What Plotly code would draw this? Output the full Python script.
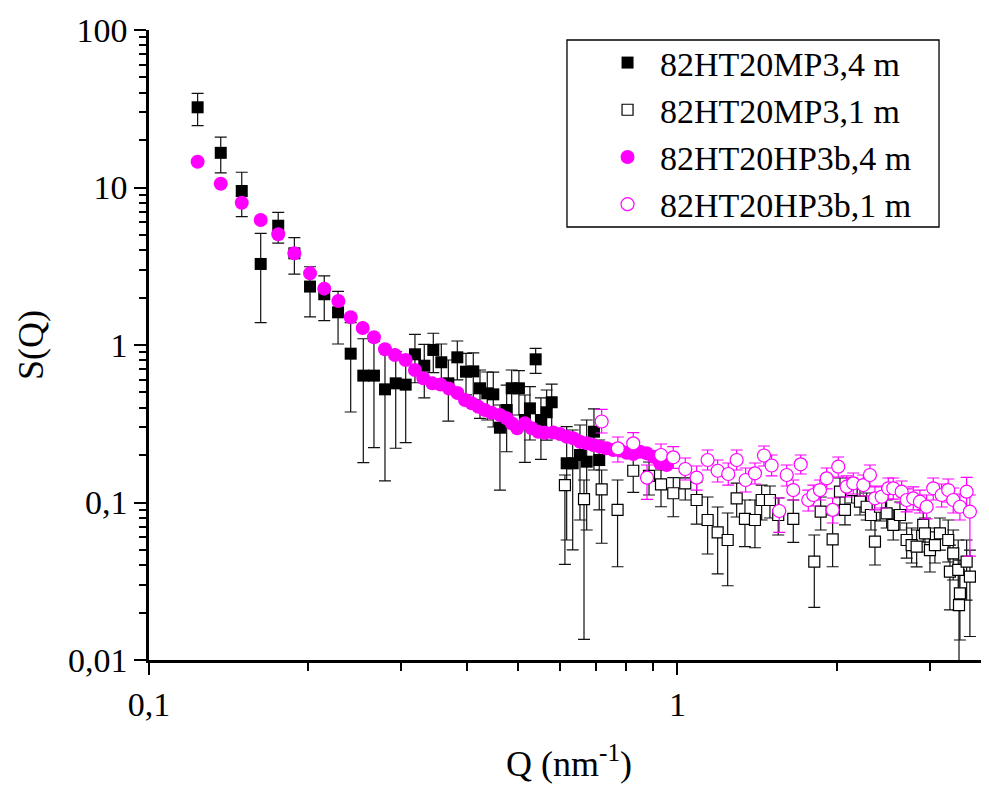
import plotly.graph_objects as go

# ---- data: 82HT20MP3, 4 m (filled black squares) ----
q_mp3_4m = [0.1236, 0.1367, 0.1498, 0.1627, 0.1756, 0.1884, 0.2017, 0.2146, 0.2279, 0.2408,
            0.2544, 0.2665, 0.2796, 0.2930, 0.3060, 0.3186, 0.3318, 0.3451, 0.3574, 0.3685,
            0.3832, 0.3980, 0.4108, 0.4230, 0.4366, 0.4482, 0.4614, 0.4751, 0.4856, 0.5012,
            0.5144, 0.5258, 0.5391, 0.5516, 0.5655, 0.5781, 0.6171, 0.6335, 0.6539, 0.6733,
            0.6950, 0.7112]
s_mp3_4m = [32.3, 16.6, 9.50, 3.27, 5.72, 3.82, 2.35, 2.10, 1.613, 0.881,
            0.639, 0.639, 0.523, 0.571, 0.560, 0.873, 0.739, 0.930, 0.777, 0.571,
            0.835, 0.677, 0.680, 0.531, 0.4935, 0.486, 0.2985, 0.3866, 0.531, 0.531,
            0.334, 0.396, 0.811, 0.334, 0.374, 0.433, 0.1774, 0.1774, 0.2003, 0.1816,
            0.2815, 0.186]
s_mp3_4m_hi = [39.6, 20.9, 12.5, 5.12, 6.96, 4.80, 3.14, 2.75, 2.19, 1.386,
               1.096, 1.056, 0.930, 0.907, 0.864, 1.169, 1.010, 1.187, 1.015, 0.803,
               1.060, 0.886, 0.890, 0.694, 0.674, 0.673, 0.416, 0.557, 0.694, 0.687,
               0.4815, 0.5435, 0.953, 0.461, 0.518, 0.565, 0.303, 0.2886, 0.3105, 0.334,
               0.3925, 0.2493]
s_mp3_4m_lo = [24.7, 12.4, 6.53, 1.386, 4.44, 2.82, 1.51, 1.427, 1.015, 0.3755,
               0.179, 0.223, 0.137, 0.221, 0.2397, 0.576, 0.461, 0.667, 0.536, 0.329,
               0.600, 0.482, 0.448, 0.3424, 0.334, 0.3016, 0.120, 0.210, 0.334, 0.3594,
               0.180, 0.2493, 0.661, 0.188, 0.249, 0.2886, 0.0578, 0.050, 0.0774, 0.0669,
               0.1608, 0.0897]

# ---- data: 82HT20MP3, 1 m (open black squares) ----
q_mp3_1m = [0.6124, 0.6655, 0.7187, 0.7703, 0.8247, 0.8834, 0.9308, 0.9819, 1.0346, 1.0871,
            1.1404, 1.1914, 1.2445, 1.2942, 1.3418, 1.4015, 1.4431, 1.4962, 1.5512, 1.6563,
            1.8151, 1.8664, 1.9661, 2.0300, 2.0745, 2.1361, 2.2148, 2.2803, 2.3233, 2.3644,
            2.4166, 2.4877, 2.5604, 2.6363, 2.7144, 2.7739, 2.8352, 2.9179, 2.9395, 3.0044,
            3.0702, 3.1380, 3.2535, 3.2776, 3.3249, 3.3984, 3.4100, 3.4236, 3.5251, 3.5759]
s_mp3_1m = [0.1291, 0.1052, 0.1213, 0.0897, 0.1591, 0.1474, 0.1305, 0.1145, 0.1324, 0.1037,
            0.0774, 0.0647, 0.0578, 0.1063, 0.0786, 0.0774, 0.1037, 0.1037, 0.0833, 0.0786,
            0.0421, 0.0874, 0.0584, 0.1171, 0.0897, 0.1200, 0.1012, 0.0940, 0.0833, 0.0564,
            0.0940, 0.0853, 0.0720, 0.0833, 0.0578, 0.0537, 0.0524, 0.0720, 0.0637, 0.0499,
            0.0537, 0.0637, 0.0578, 0.0364, 0.0476, 0.0373, 0.0223, 0.0265, 0.0421, 0.0338]
s_mp3_1m_hi = [0.1495, 0.1389, 0.1608, 0.1389, 0.2023, 0.1808, 0.1608, 0.1437, 0.1608, 0.1349,
               0.1084, 0.0936, 0.0858, 0.1329, 0.1037, 0.1037, 0.1291, 0.1273, 0.1068, 0.1037,
               0.0622, 0.1084, 0.0833, 0.1431, 0.1116, 0.1431, 0.1236, 0.1149, 0.1007, 0.0774,
               0.1149, 0.1037, 0.0897, 0.1007, 0.0741, 0.0689, 0.0669, 0.0897, 0.0797, 0.0650,
               0.0689, 0.0797, 0.0774, 0.0537, 0.0669, 0.0578, 0.0373, 0.0431, 0.0578, 0.0499]
s_mp3_1m_lo = [0.0405, 0.0135, 0.0551, 0.0391, 0.1161, 0.1116, 0.0940, 0.0812, 0.1037, 0.0730,
               0.0471, 0.0352, 0.0296, 0.0809, 0.0524, 0.0516, 0.0774, 0.0797, 0.0622, 0.0559,
               0.0216, 0.0669, 0.0391, 0.0964, 0.0720, 0.0993, 0.0833, 0.0774, 0.0669, 0.0401,
               0.0763, 0.0689, 0.0578, 0.0669, 0.0444, 0.0413, 0.0390, 0.0561, 0.0485, 0.0362,
               0.0413, 0.0499, 0.0419, 0.0208, 0.0322, 0.0208, 0.0080, 0.0134, 0.0240, 0.0141]

# ---- data: 82HT20HP3b, 4 m (filled magenta circles) ----
q_hp3b_4m = [0.1236, 0.1367, 0.1498, 0.1627, 0.1756, 0.1884, 0.2017, 0.2146, 0.2282, 0.2408,
             0.2537, 0.2665, 0.2796, 0.2921, 0.3060, 0.3186, 0.3304, 0.3436, 0.3562, 0.3696,
             0.3835, 0.3962, 0.4080, 0.4199, 0.4323, 0.4450, 0.4614, 0.4751, 0.4856, 0.4975,
             0.5144, 0.5297, 0.5451, 0.5613, 0.5821, 0.5993, 0.6171, 0.6351, 0.6539, 0.6733,
             0.6929, 0.7134, 0.7345, 0.7560, 0.7783, 0.8013, 0.8247, 0.8492, 0.8744, 0.9000,
             0.9267, 0.9541]
s_hp3b_4m = [14.58, 10.57, 8.01, 6.22, 5.05, 3.82, 2.85, 2.28, 1.903, 1.499,
             1.282, 1.119, 0.939, 0.864, 0.803, 0.694, 0.615, 0.571, 0.561, 0.529,
             0.496, 0.4475, 0.4264, 0.4058, 0.3866, 0.3716, 0.3594, 0.3424, 0.3184, 0.2959,
             0.3184, 0.2959, 0.2815, 0.2774, 0.2780, 0.2722, 0.2617, 0.2556, 0.2432, 0.2375,
             0.2318, 0.2261, 0.2208, 0.2154, 0.2140, 0.2071, 0.2032, 0.2102, 0.2053, 0.1953,
             0.1774, 0.1730]

# ---- data: 82HT20HP3b, 1 m (open magenta circles) ----
q_hp3b_1m = [0.7187, 0.7712, 0.8247, 0.8757, 0.9308, 0.9819, 1.0346, 1.0871, 1.1404, 1.1914,
             1.2477, 1.2942, 1.3459, 1.4015, 1.4578, 1.5073, 1.5580, 1.6095, 1.6563, 1.7107,
             1.7683, 1.8072, 1.8605, 1.9157, 1.9661, 2.0151, 2.0898, 2.1509, 2.2471, 2.3132,
             2.3644, 2.4345, 2.5057, 2.5604, 2.6560, 2.7144, 2.7937, 2.8759, 2.9612, 3.0479,
             3.1616, 3.2535, 3.3249, 3.4236, 3.5251, 3.5759]
s_hp3b_1m = [0.3267, 0.2208, 0.2375, 0.1437, 0.2003, 0.1936, 0.1632, 0.1437, 0.1862, 0.1591,
             0.1517, 0.1862, 0.1389, 0.1532, 0.1988, 0.1717, 0.0883, 0.1495, 0.1200, 0.1748,
             0.1037, 0.1116, 0.1200, 0.1424, 0.0897, 0.1688, 0.1260, 0.1324, 0.1291, 0.1495,
             0.1063, 0.1088, 0.1231, 0.1231, 0.1171, 0.1037, 0.1063, 0.1012, 0.0940, 0.1231,
             0.1116, 0.1200, 0.1037, 0.0940, 0.1171, 0.0874]
s_hp3b_1m_hi = [0.3906, 0.2605, 0.2774, 0.1730, 0.2352, 0.2261, 0.1916, 0.1705, 0.2154, 0.1862,
                0.1781, 0.2154, 0.1656, 0.1781, 0.2285, 0.2003, 0.1068, 0.1730, 0.1389, 0.2003,
                0.1200, 0.1291, 0.1389, 0.1656, 0.1068, 0.1945, 0.1474, 0.1539, 0.1495, 0.1730,
                0.1255, 0.1273, 0.1431, 0.1431, 0.1369, 0.1219, 0.1255, 0.1200, 0.1116, 0.1431,
                0.1311, 0.1410, 0.1236, 0.1132, 0.1445, 0.1116]
s_hp3b_1m_lo = [0.2762, 0.1808, 0.2003, 0.1047, 0.1656, 0.1645, 0.1389, 0.1200, 0.1608, 0.1349,
                0.1291, 0.1608, 0.1166, 0.1311, 0.1705, 0.1474, 0.0646, 0.1273, 0.1037, 0.1517,
                0.0883, 0.0950, 0.1037, 0.1219, 0.0741, 0.1451, 0.1084, 0.1132, 0.1100, 0.1273,
                0.0897, 0.0923, 0.1052, 0.1052, 0.0993, 0.0871, 0.0897, 0.0858, 0.0786, 0.1037,
                0.0936, 0.1007, 0.0858, 0.0774, 0.0936, 0.0457]

# ---- axis ticks ----
x_tickvals = [0.1, 1]
x_ticktext = ["0,1", "1"]
x_minor = [0.2, 0.3, 0.4, 0.5, 0.6, 0.7, 0.8, 0.9, 2, 3]
y_tickvals = [0.01, 0.1, 1, 10, 100]
y_ticktext = ["0,01", "0,1", "1", "10", "100"]
y_minor = [m * d for d in (0.01, 0.1, 1, 10) for m in range(2, 10)]


def err(vals, hi, lo):
    return ([h - v for v, h in zip(vals, hi)], [v - l for v, l in zip(vals, lo)])


MAG = "#FF00FF"
FONT = "Liberation Serif"

fig = go.Figure()

p, m = err(s_mp3_4m, s_mp3_4m_hi, s_mp3_4m_lo)
fig.add_trace(go.Scatter(
    x=q_mp3_4m, y=s_mp3_4m, mode="markers", name="82HT20MP3,4 m",
    marker=dict(symbol="square", size=12, color="black", line=dict(width=0)),
    error_y=dict(type="data", symmetric=False, array=p, arrayminus=m,
                 color="#111111", thickness=1.2, width=6)))

p, m = err(s_mp3_1m, s_mp3_1m_hi, s_mp3_1m_lo)
fig.add_trace(go.Scatter(
    x=q_mp3_1m, y=s_mp3_1m, mode="markers", name="82HT20MP3,1 m",
    marker=dict(symbol="square", size=11, color="white", line=dict(width=1.2, color="black")),
    error_y=dict(type="data", symmetric=False, array=p, arrayminus=m,
                 color="#111111", thickness=1.2, width=6)))

fig.add_trace(go.Scatter(
    x=q_hp3b_4m, y=s_hp3b_4m, mode="markers", name="82HT20HP3b,4 m",
    marker=dict(symbol="circle", size=14, color=MAG, line=dict(width=0))))

p, m = err(s_hp3b_1m, s_hp3b_1m_hi, s_hp3b_1m_lo)
fig.add_trace(go.Scatter(
    x=q_hp3b_1m, y=s_hp3b_1m, mode="markers", name="82HT20HP3b,1 m",
    marker=dict(symbol="circle", size=13, color="white", line=dict(width=1.2, color=MAG)),
    error_y=dict(type="data", symmetric=False, array=p, arrayminus=m,
                 color=MAG, thickness=1.2, width=6)))

# page body has an 8px margin: the figure is 8px smaller and margins shifted accordingly
fig.update_layout(
    width=981, height=777,
    margin=dict(l=141, r=0, t=22, b=125, autoexpand=False),
    paper_bgcolor="white", plot_bgcolor="white",
    font=dict(family=FONT, size=34, color="black"),
    showlegend=True,
    legend=dict(
        x=0.531, y=0.9937, xanchor="left", yanchor="top",
        borderwidth=0, bgcolor="rgba(0,0,0,0)",
        font=dict(family=FONT, size=34, color="black"),
        itemwidth=55, tracegroupgap=0,
    ),
    shapes=[dict(type="rect", xref="paper", yref="paper",
                 x0=0.4976, x1=0.9405, y0=0.6873, y1=0.9841,
                 line=dict(color="black", width=1.3), fillcolor="rgba(0,0,0,0)",
                 layer="above")],
)

fig.update_xaxes(
    type="log", range=[-1, 0.5895],
    showgrid=False, zeroline=False,
    showline=True, linecolor="black", linewidth=2.5,
    ticks="outside", ticklen=12, tickwidth=2, tickcolor="black",
    tickmode="array", tickvals=x_tickvals, ticktext=x_ticktext,
    tickfont=dict(family=FONT, size=34),
    minor=dict(ticks="outside", ticklen=8, tickwidth=2, tickcolor="black",
               tickmode="array", tickvals=x_minor, showgrid=False),
    title=dict(text="Q (nm<sup>-1</sup>)", font=dict(family=FONT, size=36), standoff=30),
)

fig.update_yaxes(
    type="log", range=[-2, 2],
    showgrid=False, zeroline=False,
    showline=True, linecolor="black", linewidth=2.5,
    ticks="outside", ticklen=12, tickwidth=2, tickcolor="black",
    tickmode="array", tickvals=y_tickvals, ticktext=y_ticktext,
    tickfont=dict(family=FONT, size=34),
    minor=dict(ticks="outside", ticklen=7, tickwidth=2, tickcolor="black",
               tickmode="array", tickvals=y_minor, showgrid=False),
    title=dict(text="S(Q)", font=dict(family=FONT, size=36), standoff=14),
)

fig.write_html("out.html")
